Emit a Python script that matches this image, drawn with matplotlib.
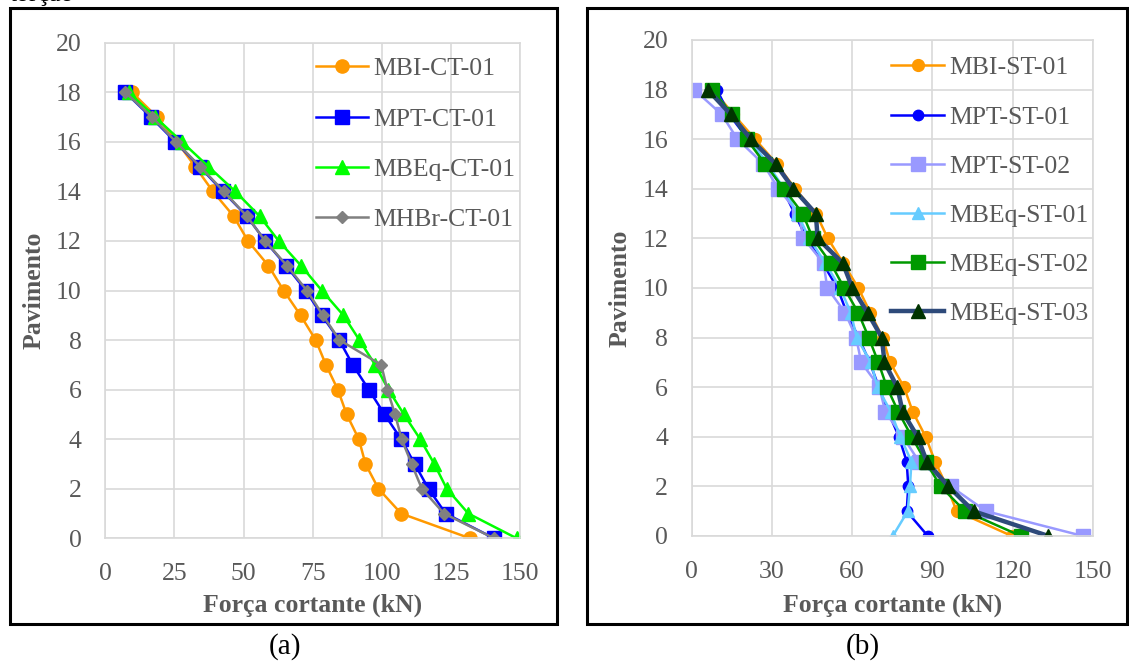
import matplotlib
matplotlib.use("Agg")
import matplotlib.pyplot as plt
from matplotlib.patches import Rectangle

plt.rcParams['font.family'] = ['Liberation Serif', 'DejaVu Serif']

# floors 0..18
floors = list(range(0, 19))

# (a) com torção - shear force per floor (kN)
mbi_ct = [131.9, 107.0, 98.8, 94.1, 91.7, 87.3, 84.1, 79.8, 76.1, 70.6,
          64.5, 59.0, 51.6, 46.4, 38.9, 32.5, 25.9, 18.7, 9.6]
mpt_ct = [140.6, 123.1, 116.9, 111.9, 107.0, 101.0, 95.3, 89.5, 84.6, 78.3,
          72.5, 65.4, 57.8, 51.2, 42.5, 34.1, 25.3, 16.5, 7.2]
mbeq_ct = [148.8, 131.3, 123.5, 119.0, 113.9, 108.0, 102.4, 97.6, 91.9, 86.1,
           78.3, 70.8, 62.7, 55.8, 47.0, 37.3, 27.7, 18.0, 8.4]
mhbr_ct = [140.6, 122.5, 114.5, 110.8, 107.2, 104.8, 102.0, 99.8, 84.7, 78.7,
           72.9, 65.7, 57.8, 51.2, 42.8, 34.3, 25.5, 16.9, 7.2]

# (b) sem torção
mbi_st01 = [119.7, 99.1, 95.4, 91.0, 87.5, 82.7, 79.4, 74.2, 71.4, 66.8,
            62.3, 56.7, 50.9, 46.5, 38.7, 31.8, 23.7, 15.6, 8.0]
mpt_st01 = [88.3, 80.4, 81.0, 80.4, 77.5, 73.5, 70.0, 66.6, 62.4, 58.0,
            54.5, 49.0, 43.0, 38.5, 34.0, 28.0, 21.0, 14.0, 9.4]
mpt_st02 = [146.3, 110.1, 96.9, 85.0, 79.0, 72.4, 70.2, 63.4, 61.5, 57.4,
            50.7, 49.3, 41.8, 40.0, 32.4, 26.8, 17.1, 11.2, 0.9]
mbeq_st01 = [75.2, 80.8, 81.6, 82.2, 78.0, 74.5, 69.5, 67.0, 61.7, 59.5,
             55.5, 50.0, 44.0, 39.5, 34.5, 28.5, 21.5, 14.5, 8.0]
mbeq_st02 = [123.1, 102.2, 93.1, 87.5, 82.3, 77.3, 73.0, 69.8, 66.2, 62.3,
             57.0, 52.0, 45.3, 41.5, 34.5, 27.4, 20.6, 15.0, 7.7]
mbeq_st03 = [133.4, 105.4, 96.0, 87.9, 84.5, 78.9, 76.9, 72.1, 71.1, 65.8,
             60.1, 56.5, 47.1, 46.4, 38.0, 31.4, 22.1, 14.6, 5.9]

left_xticks = [0, 25, 50, 75, 100, 125, 150]
right_xticks = [0, 30, 60, 90, 120, 150]
yticks = list(range(0, 21, 2))

GRID = '#D9D9D9'
TXT = '#595959'
FS = 18.5

fig = plt.figure(figsize=(11.29, 6.64), dpi=100)


def style_axes(ax, xticks):
    ax.set_xlim(0, 150)
    ax.set_ylim(0, 20)
    ax.set_xticks(xticks)
    ax.set_yticks(yticks)
    ax.grid(True, color=GRID, lw=1.2)
    ax.set_axisbelow(True)
    for s in ax.spines.values():
        s.set_color(GRID)
        s.set_linewidth(1.2)
    ax.tick_params(length=0, labelsize=FS, colors=TXT, pad=18)
    ax.tick_params(axis='y', pad=17)
    ax.set_xlabel('Força cortante (kN)', fontsize=FS, fontweight='bold', color=TXT)
    ax.set_ylabel('Pavimento', fontsize=FS, fontweight='bold', color=TXT)


# ---- panel (a)
ax1 = fig.add_axes([0.0933, 0.1893, 0.3673, 0.7464])
ax1.plot(mbi_ct, floors, color='#FF9900', lw=1.8, marker='o', ms=9.5, label='MBI-CT-01')
ax1.plot(mpt_ct, floors, color='#0000FF', lw=1.8, marker='s', ms=9.5, label='MPT-CT-01')
ax1.plot(mbeq_ct, floors, color='#00FF00', lw=1.8, marker='^', ms=9.5, label='MBEq-CT-01')
ax1.plot(mhbr_ct, floors, color='#808080', lw=1.8, marker='D', ms=6.5, label='MHBr-CT-01')
style_axes(ax1, left_xticks)
ax1.xaxis.set_label_coords(0.5, -0.135)
ax1.xaxis.label.set_va('center')
ax1.yaxis.set_label_coords(-0.171, 0.5)
ax1.yaxis.label.set_va('center')
ax1.legend(loc='upper left', bbox_to_anchor=(0.507, 0.971), frameon=False,
           fontsize=FS, labelcolor=TXT, handlelength=2.05, handletextpad=0.2,
           labelspacing=1.07, borderpad=0, borderaxespad=0)

# ---- panel (b)
ax2 = fig.add_axes([0.6127, 0.1928, 0.3552, 0.7470])
ax2.plot(mbi_st01, floors, color='#FF9900', lw=1.8, marker='o', ms=8.5, label='MBI-ST-01')
ax2.plot(mpt_st01, floors, color='#0000FF', lw=1.8, marker='o', ms=7.5, label='MPT-ST-01')
ax2.plot(mpt_st02, floors, color='#9999FF', lw=1.8, marker='s', ms=9.5, label='MPT-ST-02')
ax2.plot(mbeq_st01, floors, color='#66CCFF', lw=1.8, marker='^', ms=8.5, label='MBEq-ST-01')
ax2.plot(mbeq_st02, floors, color='#009900', lw=1.8, marker='s', ms=9.5, label='MBEq-ST-02')
ax2.plot(mbeq_st03, floors, color='#2E4A7A', lw=3.2, marker='^', ms=9.5,
         mfc='#003300', mec='#003300', label='MBEq-ST-03')
style_axes(ax2, right_xticks)
ax2.xaxis.set_label_coords(0.5, -0.14)
ax2.xaxis.label.set_va('center')
ax2.yaxis.set_label_coords(-0.179, 0.5)
ax2.yaxis.label.set_va('center')
ax2.legend(loc='upper left', bbox_to_anchor=(0.498, 0.967), frameon=False,
           fontsize=FS, labelcolor=TXT, handlelength=2.05, handletextpad=0.2,
           labelspacing=1.02, borderpad=0, borderaxespad=0)

# outer frames and captions
fig.add_artist(Rectangle((0.0089, 0.0602), 0.4845, 0.9278, transform=fig.transFigure,
                         fill=False, ec='black', lw=2.2))
fig.add_artist(Rectangle((0.5200, 0.0602), 0.4780, 0.9278, transform=fig.transFigure,
                         fill=False, ec='black', lw=2.2))
fig.text(0.2525, 0.026, '(a)', fontsize=21, ha='center', va='center')
fig.text(0.764, 0.026, '(b)', fontsize=21, ha='center', va='center')
# caption line above the figure, cut by the top edge as in the source
fig.text(0.009, 0.9985, 'torção', fontsize=FS, ha='left', va='baseline')

fig.savefig('out.png', dpi=100)
